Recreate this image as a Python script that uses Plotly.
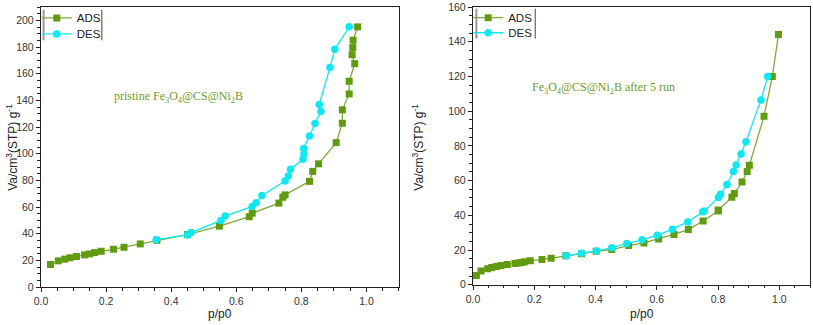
import plotly.graph_objects as go

# pristine sample: adsorption / desorption branch
ads1_p = [0.029, 0.053, 0.073, 0.089, 0.109, 0.134, 0.149, 0.165, 0.185, 0.223, 0.255,
          0.305, 0.356, 0.450, 0.548, 0.640, 0.649, 0.731, 0.743, 0.750, 0.825, 0.835,
          0.853, 0.907, 0.926, 0.926, 0.947, 0.947, 0.964, 0.956, 0.958, 0.959, 0.973]
ads1_v = [16.9, 19.6, 20.9, 21.9, 22.9, 24.1, 24.8, 25.8, 26.8, 28.3, 29.8,
          32.3, 35.0, 39.3, 45.6, 52.7, 55.4, 62.9, 67.3, 69.1, 79.2, 86.7,
          92.4, 108.3, 122.8, 132.9, 144.8, 154.3, 167.5, 174.2, 179.6, 185.1, 195.1]
des1_p = [0.947, 0.903, 0.888, 0.855, 0.860, 0.842, 0.825, 0.807, 0.808, 0.805, 0.767,
          0.760, 0.750, 0.679, 0.661, 0.649, 0.566, 0.553, 0.461, 0.450, 0.354]
des1_v = [195.2, 178.4, 164.7, 136.9, 131.7, 122.6, 113.2, 103.9, 99.6, 95.9, 88.4,
          83.2, 79.5, 68.6, 63.1, 60.4, 53.2, 49.9, 40.8, 39.0, 35.5]

# after 5 runs
ads2_p = [0.011, 0.026, 0.048, 0.061, 0.076, 0.091, 0.112, 0.137, 0.148, 0.159, 0.168,
          0.187, 0.225, 0.255, 0.303, 0.354, 0.402, 0.453, 0.508, 0.558, 0.606, 0.656,
          0.703, 0.751, 0.800, 0.801, 0.845, 0.853, 0.878, 0.895, 0.902, 0.950, 0.977, 0.997]
ads2_v = [5.4, 7.9, 9.2, 10.0, 10.5, 11.1, 11.7, 12.3, 12.5, 12.8, 13.2,
          13.8, 14.6, 15.3, 16.7, 17.8, 19.3, 20.3, 22.6, 24.1, 26.4, 29.0,
          31.8, 36.7, 42.5, 43.0, 50.4, 52.6, 59.2, 65.2, 68.8, 97.1, 119.9, 144.1]
des2_p = [0.962, 0.940, 0.891, 0.875, 0.859, 0.850, 0.829, 0.808, 0.801, 0.755, 0.750,
          0.701, 0.651, 0.601, 0.552, 0.502, 0.453, 0.403, 0.354, 0.304]
des2_v = [119.9, 106.5, 82.4, 75.3, 69.0, 65.3, 57.7, 52.1, 50.2, 42.5, 42.0,
          36.2, 32.0, 28.5, 25.9, 23.8, 21.3, 19.5, 18.2, 16.7]

GREEN = '#619c10'
GREEN_LINE = '#7cab3c'
CYAN = '#0fe8f2'
TEXT_GREEN = '#6f9a2a'

fig = go.Figure()

def add_pair(ap, av, dp, dv, xa, ya, leg_a, leg_d):
    fig.add_trace(go.Scatter(x=ap, y=av, mode='lines+markers', name='ADS',
                             line=dict(color=GREEN_LINE, width=1.3),
                             marker=dict(symbol='square', size=7, color=GREEN),
                             xaxis=xa, yaxis=ya, legend=leg_a))
    fig.add_trace(go.Scatter(x=dp, y=dv, mode='lines+markers', name='DES',
                             line=dict(color=CYAN, width=1.3),
                             marker=dict(symbol='circle', size=7.5, color=CYAN),
                             xaxis=xa, yaxis=ya, legend=leg_d))

add_pair(ads1_p, ads1_v, des1_p, des1_v, 'x', 'y', 'legend', 'legend2')
add_pair(ads2_p, ads2_v, des2_p, des2_v, 'x2', 'y2', 'legend3', 'legend4')

tickfont = dict(family='Arial', size=10.5, color='#333')
common = dict(showline=True, linecolor='#222', linewidth=1.4, mirror=True,
              ticks='outside', ticklen=4, tickcolor='#222', tickwidth=1,
              showgrid=False, zeroline=False, tickfont=tickfont, automargin=False,
              minor=dict(ticks='outside', ticklen=2.5, tickcolor='#222'))

legend_font = dict(family='Arial', size=11.5, color='#222')

def leg(x, y):
    return dict(x=x, y=y, xanchor='left', yanchor='middle', bgcolor='rgba(0,0,0,0)',
                font=legend_font, borderwidth=0)

fig.update_layout(
    width=813, height=325,
    margin=dict(l=41, r=3, t=5, b=38),
    plot_bgcolor='white', paper_bgcolor='white',
    showlegend=True,
    xaxis=dict(domain=[0, 0.4655], range=[0, 1.1], dtick=0.2, tickformat='.1f',
               anchor='y', **common),
    yaxis=dict(domain=[0, 1], range=[0, 210], dtick=20, anchor='x', **common),
    xaxis2=dict(domain=[0.5618, 1], range=[0, 1.1], dtick=0.2, tickformat='.1f',
                anchor='y2', **common),
    yaxis2=dict(domain=[0.008, 1], range=[0, 160], dtick=20, anchor='x2', **common),
    legend=leg(-0.0055, 0.961),
    legend2=leg(-0.0055, 0.904),
    legend3=leg(0.5555, 0.962),
    legend4=leg(0.5555, 0.908),
)

title_font = dict(family='Arial', size=12, color='#222')
ytitle = 'Va/cm<sup>3</sup>(STP) g<sup>-1</sup>'
fig.add_annotation(text=ytitle, x=-0.038, xref='paper', y=0.5, yref='paper', showarrow=False,
                   textangle=-90, xanchor='center', yanchor='middle', font=title_font)
fig.add_annotation(text=ytitle, x=0.5618 - 0.072, xref='paper', y=0.5, yref='paper',
                   showarrow=False, textangle=-90, xanchor='center', yanchor='middle',
                   font=title_font)
for xc in [0.4655 / 2, (0.5618 + 1) / 2]:
    fig.add_annotation(text='p/p0', x=xc, xref='paper', y=-0.095, yref='paper',
                       showarrow=False, xanchor='center', yanchor='middle', font=title_font)

# sample labels
fig.add_annotation(text='pristine Fe<sub>3</sub>O<sub>4</sub>@CS@Ni<sub>2</sub>B',
                   x=0.421, y=142.5, xref='x', yref='y', showarrow=False,
                   font=dict(family='Liberation Serif', size=12, color=TEXT_GREEN))
fig.add_annotation(text='Fe<sub>3</sub>O<sub>4</sub>@CS@Ni<sub>2</sub>B after 5 run',
                   x=0.426, y=113.5, xref='x2', yref='y2', showarrow=False,
                   font=dict(family='Liberation Serif', size=12, color=TEXT_GREEN))

# legend frame bars (left/right edges only)
for xr, yr, x0, x1, y0, y1 in [('x', 'y', 0.008, 0.187, 208, 185),
                               ('x2', 'y2', 0.011, 0.203, 159, 141.8)]:
    fig.add_shape(type='line', xref=xr, yref=yr, x0=x0, x1=x0, y0=y0, y1=y1,
                  line=dict(color='#999', width=2))
    fig.add_shape(type='line', xref=xr, yref=yr, x0=x1, x1=x1, y0=y0, y1=y1,
                  line=dict(color='#444', width=1))

fig.write_html('out.html', config={'displayModeBar': False},
               post_script="document.body.style.margin='0';")
